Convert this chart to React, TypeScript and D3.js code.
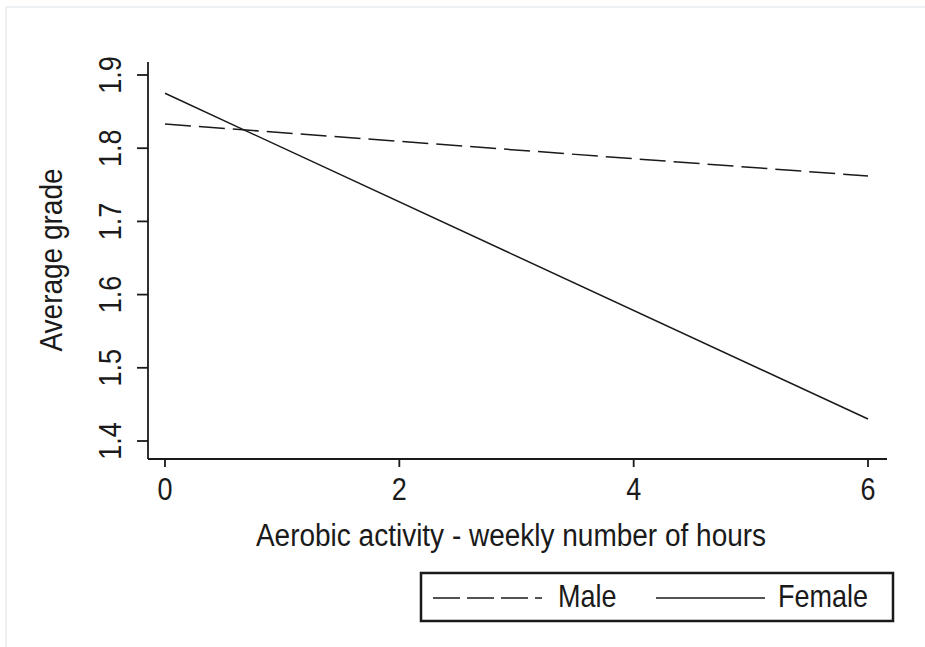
import React from "react";
import * as d3 from "d3";

// values
const hours = [0, 6];
const maleGrade = [1.833, 1.762];
const femaleGrade = [1.875, 1.43];
const xTicks = [0, 2, 4, 6];
const yTicks = [1.4, 1.5, 1.6, 1.7, 1.8, 1.9];
const seriesNames = ["Male", "Female"];

const W = 925;
const H = 647;
const FONT = "'Liberation Sans', Arial, Helvetica, sans-serif";
const STRETCH = 1.13; // glyphs in the source look a bit taller than wide

export default function App() {
  const x = d3.scaleLinear().domain([0, 6]).range([165, 868]);
  const y = d3.scaleLinear().domain([1.4, 1.9]).range([441, 75]);

  const line = d3
    .line<[number, number]>()
    .x((d) => x(d[0]))
    .y((d) => y(d[1]));

  const male = hours.map((h, i) => [h, maleGrade[i]] as [number, number]);
  const female = hours.map((h, i) => [h, femaleGrade[i]] as [number, number]);

  const axisX = 148;
  const axisY = 459;
  const ink = "#1a1a1a";

  const hText = (tx: number, ty: number) =>
    `translate(${tx},${ty}) scale(1,${STRETCH})`;
  const vText = (tx: number, ty: number) =>
    `translate(${tx},${ty}) scale(${STRETCH},1) rotate(-90)`;

  return (
    <svg
      width={W}
      height={H}
      style={{ position: "absolute", left: 0, top: 0, background: "#fff" }}
      fontFamily={FONT}
    >
      {/* faint outer frame */}
      <rect x={6} y={7} width={W} height={H} fill="none" stroke="#edf1f4" strokeWidth={2} />

      {/* axes */}
      <line x1={axisX} x2={axisX} y1={62} y2={axisY} stroke={ink} strokeWidth={1.8} />
      <line x1={axisX} x2={887} y1={axisY} y2={axisY} stroke={ink} strokeWidth={1.8} />

      {yTicks.map((t) => (
        <g key={"y" + t}>
          <line x1={137} x2={axisX} y1={y(t)} y2={y(t)} stroke={ink} strokeWidth={1.8} />
          <text
            transform={vText(121, y(t))}
            textAnchor="middle"
            fontSize={27}
            fill={ink}
          >
            {d3.format(".1f")(t)}
          </text>
        </g>
      ))}

      {xTicks.map((t) => (
        <g key={"x" + t}>
          <line x1={x(t)} x2={x(t)} y1={axisY} y2={467} stroke={ink} strokeWidth={1.8} />
          <text transform={hText(x(t), 500)} textAnchor="middle" fontSize={27} fill={ink}>
            {t}
          </text>
        </g>
      ))}

      <text transform={hText(511, 546)} textAnchor="middle" fontSize={28} fill={ink}>
        Aerobic activity - weekly number of hours
      </text>
      <text transform={vText(62, 260)} textAnchor="middle" fontSize={28} fill={ink}>
        Average grade
      </text>

      {/* series */}
      <path d={line(male) || ""} fill="none" stroke={ink} strokeWidth={1.5} strokeDasharray="26 8" />
      <path d={line(female) || ""} fill="none" stroke={ink} strokeWidth={1.5} />

      {/* legend */}
      <rect x={421} y={573} width={472} height={48} fill="#fff" stroke={ink} strokeWidth={2.5} />
      <line x1={433} x2={542} y1={598} y2={598} stroke={ink} strokeWidth={1.5} strokeDasharray="27 7" />
      <text transform={hText(558, 607)} fontSize={27} fill={ink}>
        {seriesNames[0]}
      </text>
      <line x1={656} x2={765} y1={598} y2={598} stroke={ink} strokeWidth={1.5} />
      <text transform={hText(778, 607)} fontSize={27} fill={ink}>
        {seriesNames[1]}
      </text>
    </svg>
  );
}
